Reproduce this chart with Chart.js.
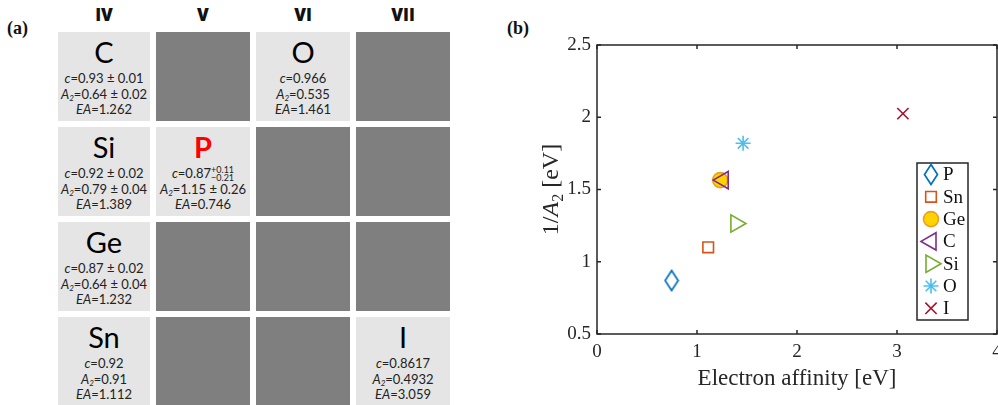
<!DOCTYPE html>
<html>
<head>
<meta charset="utf-8">
<script src="https://cdn.jsdelivr.net/npm/chart.js@4"></script>
<style>
  body { margin: 0; width: 998px; height: 405px; overflow: hidden; background: #fff; position: relative; }
  .lab { position: absolute; font: bold 18px "Liberation Serif", serif; color: #111; }
  #heads, #table { position: absolute; left: 58px; display: grid; grid-template-columns: 92px 94px 94px 94px; column-gap: 6px; }
  #heads { top: 3px; }
  #heads div { text-align: center; font: 800 17px "Open Sans", sans-serif; line-height: 24px; color: #111; }
  #table { top: 32px; grid-template-rows: 89px 89px 89px 89px; row-gap: 6px; }
  .cell { background: #e5e5e5; text-align: center; font-family: Lato, sans-serif; color: #222; overflow: hidden; }
  .cell.dark { background: #7f7f7f; }
  .sym { font-size: 29px; line-height: 32px; height: 32px; padding-top: 4px; margin-bottom: 3px; color: #000; }
  .sym.red { color: #ff0000; font-weight: bold; }
  .ln { font-size: 13px; line-height: 15.5px; height: 15.5px; }
  .ln sub { font-size: 8px; vertical-align: -2px; line-height: 0; font-style: italic; }
  .pm { display: inline-block; vertical-align: -3px; font-size: 9px; line-height: 8px; text-align: left; }
  #wrap { position: absolute; left: 500px; top: 0; width: 498px; height: 405px; }
</style>
</head>
<body>
<div class="lab" style="left:7px;top:18px">(a)</div>
<div id="heads"></div>
<div id="table"></div>
<div class="lab" style="left:507px;top:18px">(b)</div>
<div id="wrap"><canvas id="c"></canvas></div>
<script>
// panel (a): periodic table block
const groups = ["IV", "V", "VI", "VII"];
const tableGrid = [
  ["C", null, "O", null],
  ["Si", "P", null, null],
  ["Ge", null, null, null],
  ["Sn", null, null, "I"]
];
const tableSymbols = ["C", "O", "Si", "P", "Ge", "Sn", "I"];
const tableC = ["0.93 ± 0.01", "0.966", "0.92 ± 0.02", "0.87", "0.87 ± 0.02", "0.92", "0.8617"];
const tableA2 = ["0.64 ± 0.02", "0.535", "0.79 ± 0.04", "1.15 ± 0.26", "0.64 ± 0.04", "0.91", "0.4932"];
const tableEA = ["1.262", "1.461", "1.389", "0.746", "1.232", "1.112", "3.059"];
const pErr = ["+0.11", "−0.21"];

// panel (b): scatter data
const elements = ["P", "Sn", "Ge", "C", "Si", "O", "I"];
const electronAffinity = [0.746, 1.112, 1.232, 1.262, 1.389, 1.461, 3.059];
const invA2 = [0.87, 1.10, 1.565, 1.565, 1.265, 1.82, 2.025];
const xTicks = [0, 1, 2, 3, 4];
const yTicks = [0.5, 1, 1.5, 2, 2.5];

document.getElementById("heads").innerHTML = groups.map(g => `<div>${g}</div>`).join("");

let html = "";
tableGrid.forEach(row => {
  row.forEach(sym => {
    if (!sym) { html += '<div class="cell dark"></div>'; return; }
    const i = tableSymbols.indexOf(sym);
    const cVal = sym === "P"
      ? `${tableC[i]}<span class="pm">${pErr[0]}<br>${pErr[1]}</span>`
      : tableC[i];
    html += `<div class="cell">
      <div class="sym${sym === "P" ? " red" : ""}">${sym}</div>
      <div class="ln"><i>c</i>=${cVal}</div>
      <div class="ln"><i>A</i><sub>2</sub>=${tableA2[i]}</div>
      <div class="ln"><i>EA</i>=${tableEA[i]}</div>
    </div>`;
  });
});
document.getElementById("table").innerHTML = html;

// tall MATLAB-like diamond
function diamond(color) {
  const cv = document.createElement("canvas");
  cv.width = 16; cv.height = 23;
  const g = cv.getContext("2d");
  g.strokeStyle = color; g.lineWidth = 1.7;
  g.beginPath();
  g.moveTo(8, 1.5); g.lineTo(14.5, 11.5); g.lineTo(8, 21.5); g.lineTo(1.5, 11.5); g.closePath();
  g.stroke();
  return cv;
}

const styles = {
  P:  { pointStyle: diamond("#0072BD"), radius: 8, rotation: 0, border: "#0072BD", fill: "rgba(0,0,0,0)" },
  Sn: { pointStyle: "rect", radius: 7.5, rotation: 0, border: "#D95319", fill: "rgba(0,0,0,0)" },
  Ge: { pointStyle: "circle", radius: 7.5, rotation: 0, border: "#EDA020", fill: "#FFD200" },
  C:  { pointStyle: "triangle", radius: 10, rotation: 270, border: "#7E2F8E", fill: "rgba(0,0,0,0)" },
  Si: { pointStyle: "triangle", radius: 10, rotation: 90, border: "#77AC30", fill: "rgba(0,0,0,0)" },
  O:  { pointStyle: "star", radius: 7.5, rotation: 0, border: "#4DBEEE", fill: "rgba(0,0,0,0)" },
  I:  { pointStyle: "crossRot", radius: 8, rotation: 0, border: "#A2142F", fill: "rgba(0,0,0,0)" }
};

const datasets = elements.map((el, i) => ({
  label: el,
  data: [{ x: electronAffinity[i], y: invA2[i] }],
  pointStyle: styles[el].pointStyle,
  pointRadius: styles[el].radius,
  pointHoverRadius: styles[el].radius,
  pointRotation: styles[el].rotation,
  pointBorderColor: styles[el].border,
  pointBackgroundColor: styles[el].fill,
  pointBorderWidth: 1.6,
  order: el === "Ge" ? 1 : 0
}));

const axisColor = "#262626";
const serif = "'Liberation Serif', 'DejaVu Serif', serif";

const frame = {
  id: "frame",
  afterDraw(chart) {
    const { ctx, chartArea: a, scales } = chart;
    ctx.save();
    ctx.strokeStyle = axisColor;
    ctx.lineWidth = 1.5;
    ctx.strokeRect(a.left, a.top, a.right - a.left, a.bottom - a.top);
    ctx.beginPath();
    xTicks.forEach(v => {
      const x = scales.x.getPixelForValue(v);
      ctx.moveTo(x, a.bottom); ctx.lineTo(x, a.bottom - 4);
      ctx.moveTo(x, a.top); ctx.lineTo(x, a.top + 4);
    });
    yTicks.forEach(v => {
      const y = scales.y.getPixelForValue(v);
      ctx.moveTo(a.left, y); ctx.lineTo(a.left + 4, y);
      ctx.moveTo(a.right, y); ctx.lineTo(a.right - 4, y);
    });
    ctx.stroke();

    // y title: 1/A_2 [eV]
    ctx.translate(a.left - 47, (a.top + a.bottom) / 2);
    ctx.rotate(-Math.PI / 2);
    ctx.fillStyle = axisColor;
    ctx.textBaseline = "alphabetic";
    const parts = [
      { t: "1/", f: "24px " + serif, dy: 0 },
      { t: "A", f: "italic 24px " + serif, dy: 0 },
      { t: "2", f: "16px " + serif, dy: 5 },
      { t: " [eV]", f: "24px " + serif, dy: 0 }
    ];
    let total = 0;
    parts.forEach(p => { ctx.font = p.f; p.w = ctx.measureText(p.t).width; total += p.w; });
    let x = -total / 2;
    parts.forEach(p => { ctx.font = p.f; ctx.fillText(p.t, x, 8 + p.dy); x += p.w; });
    ctx.restore();

    // legend box
    ctx.save();
    const bl = a.right - 80, bt = a.top + 118, bw = 51, bh = 157;
    ctx.fillStyle = "#fff";
    ctx.fillRect(bl, bt, bw, bh);
    ctx.strokeStyle = axisColor;
    ctx.lineWidth = 1.5;
    ctx.strokeRect(bl, bt, bw, bh);
    elements.forEach((el, i) => {
      const y = bt + 11.5 + i * 22.3;
      const s = styles[el];
      ctx.strokeStyle = s.border;
      ctx.fillStyle = s.fill;
      ctx.lineWidth = 1.6;
      Chart.helpers.drawPoint(ctx, { pointStyle: s.pointStyle, radius: s.radius, rotation: s.rotation, borderWidth: 1.6 }, bl + 14, y);
      ctx.fillStyle = "#111";
      ctx.font = "19px " + serif;
      ctx.textBaseline = "middle";
      ctx.fillText(el, bl + 26, y + 1);
    });
    ctx.restore();
  }
};

new Chart(document.getElementById("c"), {
  type: "scatter",
  data: { datasets },
  plugins: [frame],
  options: {
    responsive: true,
    maintainAspectRatio: false,
    animation: false,
    events: [],
    layout: { autoPadding: false, padding: { left: 0, top: 45, right: 1, bottom: 0 } },
    plugins: { legend: { display: false }, tooltip: { enabled: false } },
    scales: {
      x: {
        type: "linear", min: 0, max: 4,
        grid: { display: false, drawTicks: false },
        border: { display: false },
        ticks: { stepSize: 1, padding: 7, color: axisColor, font: { family: serif, size: 19 }, callback: v => String(v) },
        title: { display: true, text: "Electron affinity [eV]", color: axisColor, font: { family: serif, size: 23 }, padding: { top: 0, bottom: 12 } },
        afterFit: s => { s.height = 71; s.paddingLeft = 0; s.paddingRight = 0; }
      },
      y: {
        type: "linear", min: 0.5, max: 2.5,
        grid: { display: false, drawTicks: false },
        border: { display: false },
        ticks: { stepSize: 0.5, padding: 6, color: axisColor, font: { family: serif, size: 19 }, callback: v => String(v) },
        afterFit: s => { s.width = 97; s.paddingTop = 0; s.paddingBottom = 0; }
      }
    }
  }
});
</script>
</body>
</html>
